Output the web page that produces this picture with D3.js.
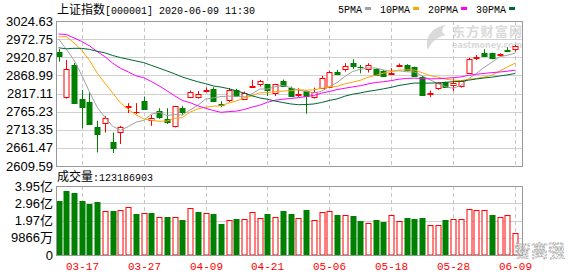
<!DOCTYPE html>
<html>
<head>
<meta charset="utf-8">
<script src="https://cdn.jsdelivr.net/npm/d3@7"></script>
<style>
  body { margin: 0; background: #fff; }
  svg { display: block; }
</style>
</head>
<body>
<svg id="chart" width="578" height="276"></svg>
<script>
// 上证指数 daily K line, 2020-03-12 .. 2020-06-09 (last bar is the 11:30 snapshot)
const dates = ["03-12","03-13","03-16","03-17","03-18","03-19","03-20","03-23","03-24","03-25",
  "03-26","03-27","03-30","03-31","04-01","04-02","04-03","04-07","04-08","04-09",
  "04-10","04-13","04-14","04-15","04-16","04-17","04-20","04-21","04-22","04-23",
  "04-24","04-27","04-28","04-29","04-30","05-06","05-07","05-08","05-11","05-12",
  "05-13","05-14","05-15","05-18","05-19","05-20","05-21","05-22","05-25","05-26",
  "05-27","05-28","05-29","06-01","06-02","06-03","06-04","06-05","06-08","06-09"];

const open = [2936.0,2808.3,2898.9,2800.0,2794.0,2720.9,2732.3,2678.9,2706.6,2778.0,
  2764.0,2796.0,2741.0,2768.4,2745.0,2722.7,2776.0,2808.4,2808.4,2824.5,
  2829.5,2786.6,2799.0,2827.5,2800.9,2837.0,2844.6,2843.6,2818.0,2852.0,
  2832.3,2814.0,2824.6,2806.6,2832.3,2837.0,2880.0,2886.6,2905.5,2894.0,
  2887.5,2887.5,2881.8,2874.0,2897.0,2898.0,2892.3,2863.8,2816.5,2832.3,
  2849.0,2841.8,2838.9,2875.0,2919.5,2934.0,2932.0,2927.5,2942.0,2944.0];
const high = [2944.5,2913.2,2904.4,2827.5,2819.8,2738.9,2753.0,2705.5,2724.6,2789.5,
  2789.5,2808.4,2756.0,2775.0,2775.0,2781.8,2781.8,2825.5,2823.8,2834.0,
  2835.0,2795.0,2833.0,2830.4,2822.6,2856.0,2856.0,2845.0,2845.0,2856.7,
  2837.0,2832.0,2826.0,2834.0,2867.5,2881.8,2884.6,2903.8,2915.0,2898.9,
  2903.8,2889.0,2884.6,2889.5,2903.0,2901.0,2894.0,2867.5,2825.5,2850.0,
  2851.0,2860.0,2853.0,2919.8,2927.5,2943.8,2934.0,2932.0,2949.5,2956.0];
const low = [2908.3,2802.6,2789.2,2718.0,2728.0,2648.4,2705.5,2646.8,2672.3,2760.9,
  2758.0,2770.0,2724.6,2744.6,2730.0,2720.0,2756.0,2805.0,2802.6,2820.0,
  2795.2,2778.0,2793.0,2811.0,2800.0,2834.0,2837.0,2810.0,2810.0,2838.0,
  2807.5,2807.5,2759.0,2802.6,2832.0,2832.0,2871.0,2879.8,2887.5,2875.0,
  2877.0,2870.0,2865.5,2869.5,2893.0,2879.8,2867.5,2810.0,2806.6,2827.5,
  2837.0,2823.8,2834.0,2875.0,2913.0,2923.0,2915.0,2924.6,2936.0,2937.0];
const close = [2923.49,2887.43,2789.25,2779.64,2728.76,2702.13,2745.62,2660.17,2722.44,2781.59,
  2764.91,2772.20,2747.21,2750.30,2734.52,2780.64,2763.99,2820.76,2815.37,2825.90,
  2796.63,2783.05,2827.28,2811.17,2819.94,2838.49,2852.55,2827.01,2843.98,2838.50,
  2808.53,2815.49,2810.02,2822.44,2860.08,2878.14,2871.52,2895.34,2894.80,2891.56,
  2898.05,2870.34,2868.46,2875.42,2898.58,2883.74,2867.92,2813.77,2817.97,2846.55,
  2836.80,2846.22,2852.35,2915.43,2921.40,2923.37,2919.25,2930.80,2937.77,2953.00];
const prevClose = 2968.52; // close of 03-11, colours the first volume bar

const ma5 = [2973.3,2943.9,2913.1,2869.7,2821.7,2777.4,2749.1,2723.3,2711.8,2722.4,
  2734.9,2740.3,2757.7,2763.2,2753.8,2757.0,2755.3,2770.0,2783.1,2801.3,
  2804.5,2808.3,2809.6,2808.8,2807.6,2816.0,2829.9,2829.8,2836.4,2840.1,
  2834.1,2826.7,2823.3,2819.0,2823.3,2837.2,2848.4,2865.5,2880.0,2886.3,
  2890.3,2890.0,2884.6,2880.8,2882.2,2879.3,2878.8,2867.9,2856.4,2846.0,
  2836.6,2832.3,2840.0,2859.5,2874.4,2891.8,2906.4,2922.1,2926.5,2932.8];
const ma10 = [2979.4,2980.1,2962.0,2940.6,2912.3,2875.4,2846.5,2818.2,2790.7,2772.1,
  2756.2,2744.7,2740.5,2737.5,2738.1,2746.0,2747.8,2763.9,2773.1,2777.6,
  2780.8,2781.8,2789.8,2795.9,2804.5,2810.3,2819.1,2819.7,2822.6,2823.9,
  2825.1,2828.3,2826.6,2827.7,2831.7,2835.7,2837.6,2844.4,2849.5,2854.8,
  2863.7,2869.2,2875.1,2880.4,2884.2,2884.8,2884.4,2876.3,2868.6,2864.1,
  2858.0,2855.5,2853.9,2857.9,2860.2,2864.2,2869.3,2881.0,2893.0,2903.6];
const ma20 = [2987.4,2985.9,2976.2,2966.0,2953.6,2937.2,2922.5,2904.0,2889.4,2879.1,
  2867.8,2862.4,2851.2,2839.1,2825.2,2810.7,2797.1,2791.0,2781.9,2774.8,
  2768.5,2763.3,2765.2,2766.7,2771.3,2778.1,2783.5,2791.8,2797.9,2800.7,
  2802.9,2805.1,2808.2,2811.8,2818.1,2823.0,2828.3,2832.1,2836.0,2839.3,
  2844.4,2848.8,2850.8,2854.0,2858.0,2860.2,2861.0,2860.3,2859.0,2859.4,
  2860.8,2862.4,2864.5,2869.2,2872.2,2874.5,2876.9,2878.6,2880.8,2883.9];
const ma30 = [2948.0,2945.0,2946.5,2946.3,2943.4,2937.9,2933.5,2925.9,2919.9,2915.1,
  2910.3,2905.5,2897.6,2889.8,2881.8,2873.5,2864.3,2857.3,2850.7,2845.3,
  2838.8,2835.5,2830.8,2824.7,2818.3,2810.5,2804.5,2800.6,2795.5,2791.2,
  2787.3,2785.0,2785.6,2787.1,2791.4,2797.3,2801.5,2809.3,2815.1,2818.7,
  2823.2,2826.5,2830.5,2834.7,2840.1,2843.6,2847.0,2846.8,2846.9,2847.6,
  2848.9,2851.0,2851.9,2855.3,2858.7,2861.5,2863.8,2867.2,2870.3,2874.2];

// volume in 亿 (1e8)
const volume = [3.088,3.660,3.546,3.088,2.917,3.031,2.499,2.516,2.556,2.728,
  2.362,2.402,2.402,2.156,2.173,2.156,2.002,2.671,2.459,2.402,
  2.362,1.790,2.002,2.059,2.059,2.459,2.116,2.362,2.173,2.516,
  2.345,2.099,2.574,2.002,2.442,2.499,2.288,2.270,2.230,1.944,
  1.830,2.002,1.887,2.270,1.927,2.116,2.059,2.116,1.699,1.699,
  2.002,2.059,2.042,2.614,2.556,2.556,2.288,2.156,2.270,1.23186903];

const priceTicks = [3024.63,2972.75,2920.87,2868.99,2817.11,2765.23,2713.35,2661.47,2609.59];
const volTicks = [3.9464,2.9598,1.9732,0.9866,0];
const volTickLabels = ["3.95亿","2.96亿","1.97亿","9866万","0"];
const xLabels = ["03-17","03-27","04-09","04-21","05-06","05-18","05-28","06-09"];
const maNames = ["5PMA","10PMA","20PMA","30PMA"];
const maColors = ["#a0a0a0","#ffa500","#ff00ff","#006633"];

const UP = "#ff0000", DOWN = "#008000";
const L = 56, R = 522, pTop = 21, pBot = 166, vTop = 186, vBot = 255;

const svg = d3.select("#chart");

const x = d3.scaleBand().domain(dates).range([L, L + 60 * 7.692]).paddingInner(0.35);
const cx = d => Math.round(x(d) + x.bandwidth() / 2) + 0.5;
const yP = d3.scaleLinear().domain([2609.59, 3024.63]).range([pBot, pTop]);
const yV = d3.scaleLinear().domain([0, 3.9464]).range([vBot, vTop]);

// title
const title = svg.append("text").attr("x", 57).attr("y", 14).attr("fill", "#000");
title.append("tspan").attr("font-family", "'Noto Sans CJK SC'").attr("font-size", 12).text("上证指数");
title.append("tspan").attr("font-family", "'Liberation Mono'").attr("font-size", 10).text("[000001] 2020-06-09  11:30");

// legend
let lx = 338;
maNames.forEach((n, k) => {
  const t = svg.append("text").attr("x", lx).attr("y", 13)
    .attr("font-family", "'Liberation Mono'").attr("font-size", 10).attr("fill", "#000").text(n);
  const w = t.node().getComputedTextLength();
  svg.append("rect").attr("x", lx + w + 3).attr("y", 7).attr("width", 6).attr("height", 3).attr("fill", maColors[k]);
  lx += w + 18;
});

// watermark
const wm = svg.append("g").attr("fill", "#dadada");
wm.append("path").attr("d", "M446,25 C432,27 424,37 428,50 C431,42 437,37 446,35 C440,33 442,28 446,25 Z");
wm.append("text").attr("x", 452).attr("y", 36).attr("font-family", "'Noto Sans CJK SC'")
  .attr("font-weight", "bold").attr("font-size", 13).attr("textLength", 70).text("东方财富网");
wm.append("text").attr("x", 452).attr("y", 48).attr("font-family", "'DejaVu Sans'")
  .attr("font-weight", "bold").attr("font-size", 8).attr("textLength", 70).text("eastmoney.com");

// grids
function panelGrid(ys, top, bot) {
  svg.append("g").selectAll("line").data(ys).join("line")
    .attr("x1", L).attr("x2", R)
    .attr("y1", d => Math.round(d) + 0.5).attr("y2", d => Math.round(d) + 0.5)
    .attr("stroke", "#d0d0d0");
  svg.append("g").selectAll("line").data(xLabels).join("line")
    .attr("x1", d => cx(d)).attr("x2", d => cx(d))
    .attr("y1", top).attr("y2", bot)
    .attr("stroke", "#c8c8c8").attr("stroke-dasharray", "4,3");
}
panelGrid(priceTicks.map(yP), pTop, pBot);
panelGrid(volTicks.map(yV), vTop, vBot);

// axis labels
svg.append("g").selectAll("text").data(priceTicks).join("text")
  .attr("x", 53).attr("y", d => yP(d)).attr("dy", "0.35em").attr("text-anchor", "end")
  .attr("font-family", "'Liberation Sans'").attr("font-size", 13).attr("fill", "#000")
  .text(d => d.toFixed(2));
svg.append("g").selectAll("text").data(volTicks).join("text")
  .attr("x", 53).attr("y", d => yV(d)).attr("dy", "0.35em").attr("text-anchor", "end")
  .attr("font-family", "'Liberation Sans','Noto Sans CJK SC'").attr("font-size", 13).attr("fill", "#000")
  .text((d, k) => volTickLabels[k]);
svg.append("g").selectAll("text").data(xLabels).join("text")
  .attr("x", d => cx(d)).attr("y", 270).attr("text-anchor", "middle")
  .attr("font-family", "'Liberation Mono'").attr("font-size", 11).attr("fill", UP)
  .text(d => d);

const vt = svg.append("text").attr("x", 57).attr("y", 181).attr("fill", "#000");
vt.append("tspan").attr("font-family", "'Noto Sans CJK SC'").attr("font-size", 12).text("成交量");
vt.append("tspan").attr("font-family", "'Liberation Mono'").attr("font-size", 10)
  .text(":" + Math.round(volume[volume.length - 1] * 1e8));

// candles
const bars = dates.map((d, i) => ({ d, o: open[i], h: high[i], l: low[i], c: close[i] }));
const cg = svg.append("g");
bars.forEach(b => {
  const up = b.c >= b.o;
  const col = up ? UP : DOWN;
  const xc = cx(b.d);
  cg.append("line").attr("x1", xc).attr("x2", xc).attr("y1", yP(b.h)).attr("y2", yP(b.l)).attr("stroke", col);
  const y0 = Math.round(yP(Math.max(b.o, b.c)));
  const y1 = Math.round(yP(Math.min(b.o, b.c)));
  if (y1 - y0 < 1) {
    cg.append("line").attr("x1", xc - 3).attr("x2", xc + 3).attr("y1", y0 + 0.5).attr("y2", y0 + 0.5).attr("stroke", col);
  } else {
    cg.append("rect").attr("x", xc - 2.5).attr("y", y0 + 0.5).attr("width", 5).attr("height", y1 - y0)
      .attr("fill", up ? "#fff" : col).attr("stroke", col);
  }
});

// moving averages
[ma5, ma10, ma20, ma30].forEach((m, k) => {
  svg.append("path").datum(m)
    .attr("fill", "none").attr("stroke", maColors[k]).attr("stroke-width", 1)
    .attr("d", d3.line().x((v, i) => x(dates[i]) + x.bandwidth() / 2).y(v => yP(v)));
});

// volume bars
svg.append("g").selectAll("rect").data(volume).join("rect")
  .attr("x", (v, i) => cx(dates[i]) - 2.5)
  .attr("y", v => Math.round(yV(v)) + 0.5)
  .attr("width", 5)
  .attr("height", v => vBot - Math.round(yV(v)) - 0.5)
  .attr("fill", (v, i) => close[i] >= (i ? close[i - 1] : prevClose) ? "#fff" : DOWN)
  .attr("stroke", (v, i) => close[i] >= (i ? close[i - 1] : prevClose) ? UP : DOWN);

// frames
[[pTop, pBot], [vTop, vBot]].forEach(([t, b]) => {
  svg.append("rect").attr("x", L + 0.5).attr("y", t + 0.5).attr("width", R - L).attr("height", b - t)
    .attr("fill", "none").attr("stroke", "#999");
});

// bottom-right watermark
svg.append("text").attr("x", 514).attr("y", 257).attr("font-family", "'Noto Sans CJK SC'")
  .attr("font-size", 17).attr("fill", "#fff").attr("stroke", "#aaa").attr("stroke-width", 0.8)
  .attr("stroke-dasharray", "2,1").text("智高强");
</script>
</body>
</html>
